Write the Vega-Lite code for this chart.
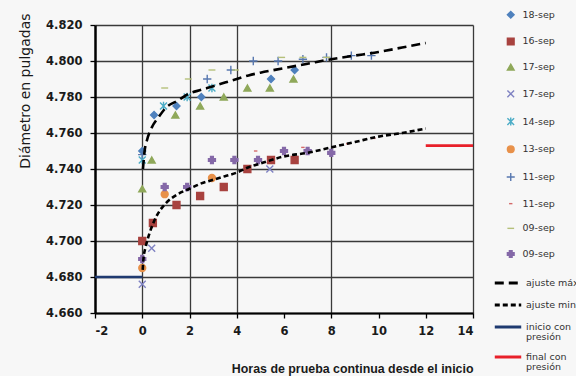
{
  "$schema": "https://vega.github.io/schema/vega-lite/v6.json",
  "width": 378,
  "height": 288,
  "autosize": "none",
  "padding": {"left": 95, "top": 25, "right": 103, "bottom": 63},
  "background": "#f7f7f7",
  "config": {"view": {"stroke": null}, "font": "DejaVu Sans", "axis": {"labelOverlap": false}, "axisY": {"labelOverlap": false}, "style": {"guide-label": {"lineHeight": 9.5}}},
  "datasets": {
    "pts": [
      {"s": "18-sep", "x": 0, "y": 4.750}, {"s": "18-sep", "x": 0.5, "y": 4.770}, {"s": "18-sep", "x": 1.45, "y": 4.775}, {"s": "18-sep", "x": 2.5, "y": 4.780}, {"s": "18-sep", "x": 5.45, "y": 4.790}, {"s": "18-sep", "x": 6.45, "y": 4.795},
      {"s": "16-sep", "x": 0, "y": 4.700}, {"s": "16-sep", "x": 0.45, "y": 4.710}, {"s": "16-sep", "x": 1.45, "y": 4.720}, {"s": "16-sep", "x": 2.45, "y": 4.725}, {"s": "16-sep", "x": 3.45, "y": 4.730}, {"s": "16-sep", "x": 4.45, "y": 4.740}, {"s": "16-sep", "x": 5.45, "y": 4.745}, {"s": "16-sep", "x": 6.45, "y": 4.745},
      {"s": "17-sep", "x": 0, "y": 4.729}, {"s": "17-sep", "x": 0.4, "y": 4.745}, {"s": "17-sep", "x": 1.4, "y": 4.770}, {"s": "17-sep", "x": 2.45, "y": 4.775}, {"s": "17-sep", "x": 3.45, "y": 4.780}, {"s": "17-sep", "x": 4.45, "y": 4.785}, {"s": "17-sep", "x": 5.4, "y": 4.785}, {"s": "17-sep", "x": 6.4, "y": 4.790},
      {"s": "17-sep b", "x": 0, "y": 4.676}, {"s": "17-sep b", "x": 0.4, "y": 4.696}, {"s": "17-sep b", "x": 5.4, "y": 4.740},
      {"s": "14-sep", "x": 0, "y": 4.745}, {"s": "14-sep", "x": 0.9, "y": 4.775}, {"s": "14-sep", "x": 1.9, "y": 4.780}, {"s": "14-sep", "x": 2.95, "y": 4.785},
      {"s": "13-sep", "x": 0, "y": 4.685}, {"s": "13-sep", "x": 0.95, "y": 4.726}, {"s": "13-sep", "x": 2.95, "y": 4.735},
      {"s": "11-sep", "x": 0, "y": 4.748}, {"s": "11-sep", "x": 2.75, "y": 4.790}, {"s": "11-sep", "x": 3.75, "y": 4.795}, {"s": "11-sep", "x": 4.7, "y": 4.800}, {"s": "11-sep", "x": 5.75, "y": 4.800}, {"s": "11-sep", "x": 6.8, "y": 4.801}, {"s": "11-sep", "x": 7.8, "y": 4.802}, {"s": "11-sep", "x": 8.85, "y": 4.803}, {"s": "11-sep", "x": 9.7, "y": 4.803},
      {"s": "11-sep b", "x": 4.8, "y": 4.750}, {"s": "11-sep b", "x": 6.8, "y": 4.752}, {"s": "11-sep b", "x": 8.7, "y": 4.754}, {"s": "11-sep b", "x": 9.8, "y": 4.757},
      {"s": "09-sep", "x": 0.95, "y": 4.785}, {"s": "09-sep", "x": 1.95, "y": 4.790}, {"s": "09-sep", "x": 2.95, "y": 4.795}, {"s": "09-sep", "x": 3.95, "y": 4.795}, {"s": "09-sep", "x": 5.9, "y": 4.802}, {"s": "09-sep", "x": 6.8, "y": 4.802}, {"s": "09-sep", "x": 7.8, "y": 4.802},
      {"s": "09-sep b", "x": 0, "y": 4.690}, {"s": "09-sep b", "x": 0.95, "y": 4.730}, {"s": "09-sep b", "x": 1.9, "y": 4.730}, {"s": "09-sep b", "x": 2.95, "y": 4.745}, {"s": "09-sep b", "x": 3.9, "y": 4.745}, {"s": "09-sep b", "x": 4.9, "y": 4.745}, {"s": "09-sep b", "x": 6.0, "y": 4.750}, {"s": "09-sep b", "x": 7.0, "y": 4.750}, {"s": "09-sep b", "x": 8.0, "y": 4.749}
    ],
    "fits": [
      {"f": "ajuste máx", "x": 0.03, "y": 4.740}, {"f": "ajuste máx", "x": 0.1, "y": 4.750}, {"f": "ajuste máx", "x": 0.2, "y": 4.756}, {"f": "ajuste máx", "x": 0.4, "y": 4.763}, {"f": "ajuste máx", "x": 0.7, "y": 4.769}, {"f": "ajuste máx", "x": 1.0, "y": 4.774}, {"f": "ajuste máx", "x": 1.5, "y": 4.778}, {"f": "ajuste máx", "x": 2.0, "y": 4.782}, {"f": "ajuste máx", "x": 2.5, "y": 4.784}, {"f": "ajuste máx", "x": 3.0, "y": 4.786}, {"f": "ajuste máx", "x": 3.5, "y": 4.788}, {"f": "ajuste máx", "x": 4.0, "y": 4.790}, {"f": "ajuste máx", "x": 4.5, "y": 4.792}, {"f": "ajuste máx", "x": 5.0, "y": 4.7935}, {"f": "ajuste máx", "x": 6.0, "y": 4.796}, {"f": "ajuste máx", "x": 7.0, "y": 4.7985}, {"f": "ajuste máx", "x": 8.0, "y": 4.801}, {"f": "ajuste máx", "x": 9.0, "y": 4.803}, {"f": "ajuste máx", "x": 10.0, "y": 4.805}, {"f": "ajuste máx", "x": 11.0, "y": 4.8075}, {"f": "ajuste máx", "x": 12.0, "y": 4.810},
      {"f": "ajuste min", "x": 0.02, "y": 4.684}, {"f": "ajuste min", "x": 0.05, "y": 4.690}, {"f": "ajuste min", "x": 0.15, "y": 4.697}, {"f": "ajuste min", "x": 0.3, "y": 4.704}, {"f": "ajuste min", "x": 0.5, "y": 4.711}, {"f": "ajuste min", "x": 0.75, "y": 4.717}, {"f": "ajuste min", "x": 1.0, "y": 4.721}, {"f": "ajuste min", "x": 1.5, "y": 4.726}, {"f": "ajuste min", "x": 2.0, "y": 4.729}, {"f": "ajuste min", "x": 2.5, "y": 4.732}, {"f": "ajuste min", "x": 3.0, "y": 4.734}, {"f": "ajuste min", "x": 3.5, "y": 4.736}, {"f": "ajuste min", "x": 4.0, "y": 4.738}, {"f": "ajuste min", "x": 4.5, "y": 4.741}, {"f": "ajuste min", "x": 5.0, "y": 4.743}, {"f": "ajuste min", "x": 6.0, "y": 4.747}, {"f": "ajuste min", "x": 7.0, "y": 4.749}, {"f": "ajuste min", "x": 8.0, "y": 4.752}, {"f": "ajuste min", "x": 9.0, "y": 4.755}, {"f": "ajuste min", "x": 10.0, "y": 4.758}, {"f": "ajuste min", "x": 11.0, "y": 4.760}, {"f": "ajuste min", "x": 12.0, "y": 4.7625},
      {"f": "inicio con presión", "x": -2, "y": 4.680}, {"f": "inicio con presión", "x": 0, "y": 4.680},
      {"f": "final con presión", "x": 12, "y": 4.753}, {"f": "final con presión", "x": 14, "y": 4.753}
    ]
  },
  "resolve": {"axis": {"x": "independent"}},
  "layer": [
    {
      "data": {"name": "pts"},
      "mark": {"type": "point", "filled": true, "opacity": 1, "size": 48, "strokeWidth": 1.4},
      "encoding": {
        "x": {"field": "x", "type": "quantitative", "scale": {"domain": [-2, 14], "nice": false, "zero": false},
          "axis": {"orient": "top", "values": [0, 2, 4, 8, 14], "grid": true, "gridColor": "#3a3a3a", "gridWidth": 1.3, "labels": false, "ticks": false, "domain": false, "title": null}},
        "y": {"field": "y", "type": "quantitative", "scale": {"domain": [4.66, 4.82], "nice": false, "zero": false},
          "axis": {"values": [4.66, 4.68, 4.70, 4.72, 4.74, 4.76, 4.78, 4.80, 4.82], "format": ".3f", "labelOverlap": false, "grid": true, "gridColor": "#3a3a3a", "gridWidth": 1.3,
            "domainColor": "#000", "domainWidth": 2.5, "tickColor": "#000", "tickSize": 5, "tickWidth": 1.3,
            "labelFont": "DejaVu Sans", "labelFontWeight": "bold", "labelFontSize": 11.5, "labelColor": "#1a1a1a", "labelPadding": 8,
            "title": "Diámetro en pulgadas", "titleFont": "DejaVu Sans", "titleFontWeight": "normal", "titleFontSize": 14, "titleColor": "#1a1a1a", "titlePadding": 13, "titleAnchor": "end", "titleY": -12}},
        "fill": {"field": "s", "type": "nominal",
          "scale": {"domain": ["18-sep", "16-sep", "17-sep", "17-sep b", "14-sep", "13-sep", "11-sep", "11-sep b", "09-sep", "09-sep b"],
            "range": ["#4F81BD", "#A8423F", "#8FA85A", "#7F82C2", "#4BACC6", "#E8914A", "#5878B0", "#D46A6A", "#B5C07A", "#8569A8"]},
          "legend": {"title": null, "orient": "none", "legendX": 411, "legendY": -15, "padding": 0, "symbolSize": 45, "symbolStrokeWidth": 1.4, "labelFont": "DejaVu Sans", "labelFontSize": 9.5, "labelColor": "#333", "rowPadding": 13.7, "labelOffset": 7, "labelExpr": "replace(datum.label, ' b', '')"}},
        "stroke": {"field": "s", "type": "nominal",
          "scale": {"domain": ["18-sep", "16-sep", "17-sep", "17-sep b", "14-sep", "13-sep", "11-sep", "11-sep b", "09-sep", "09-sep b"],
            "range": ["#4F81BD", "#A8423F", "#8FA85A", "#7F82C2", "#4BACC6", "#E8914A", "#5878B0", "#D46A6A", "#B5C07A", "#8569A8"]},
          "legend": {"title": null, "orient": "none", "legendX": 411, "legendY": -15, "padding": 0, "symbolSize": 45, "symbolStrokeWidth": 1.4, "labelFont": "DejaVu Sans", "labelFontSize": 9.5, "labelColor": "#333", "rowPadding": 13.7, "labelOffset": 7, "labelExpr": "replace(datum.label, ' b', '')"}},
        "shape": {"field": "s", "type": "nominal",
          "scale": {"domain": ["18-sep", "16-sep", "17-sep", "17-sep b", "14-sep", "13-sep", "11-sep", "11-sep b", "09-sep", "09-sep b"],
            "range": ["diamond", "square", "triangle-up", "M-1,-1L1,1M-1,1L1,-1", "M-1,-1L1,1M-1,1L1,-1M0,-1.2L0,1.2", "circle", "M-1.2,0L1.2,0M0,-1.2L0,1.2", "M-0.5,0L0.5,0", "M-1,0L1,0", "cross"]},
          "legend": {"title": null, "orient": "none", "legendX": 411, "legendY": -15, "padding": 0, "symbolSize": 45, "symbolStrokeWidth": 1.4, "labelFont": "DejaVu Sans", "labelFontSize": 9.5, "labelColor": "#333", "rowPadding": 13.7, "labelOffset": 7, "labelExpr": "replace(datum.label, ' b', '')"}}
      }
    },
    {
      "data": {"name": "fits"},
      "mark": {"type": "line", "strokeWidth": 2.6, "interpolate": "monotone"},
      "encoding": {
        "x": {"field": "x", "type": "quantitative", "scale": {"domain": [-2, 14], "nice": false, "zero": false},
          "axis": {"orient": "bottom", "values": [-2, 0, 2, 4, 6, 8, 10, 12, 14], "labelOverlap": false, "grid": false,
            "domainColor": "#000", "domainWidth": 2, "tickColor": "#000", "tickSize": 5, "tickWidth": 1.3,
            "labelFont": "DejaVu Sans", "labelFontWeight": "bold", "labelFontSize": 11.5, "labelColor": "#1a1a1a", "labelPadding": 7,
            "labelExpr": "replace(datum.label, '−', '-')",
            "title": "Horas de prueba continua desde el inicio", "titleAnchor": "end", "titleFont": "Liberation Sans", "titleFontWeight": "bold", "titleFontSize": 12.4, "titleColor": "#1a1a1a", "titlePadding": 26}},
        "y": {"field": "y", "type": "quantitative", "scale": {"domain": [4.66, 4.82], "nice": false, "zero": false},
          "axis": {"values": [4.66, 4.68, 4.70, 4.72, 4.74, 4.76, 4.78, 4.80, 4.82], "format": ".3f", "labelOverlap": false, "grid": true, "gridColor": "#3a3a3a", "gridWidth": 1.3,
            "domainColor": "#000", "domainWidth": 2.5, "tickColor": "#000", "tickSize": 5, "tickWidth": 1.3,
            "labelFont": "DejaVu Sans", "labelFontWeight": "bold", "labelFontSize": 11.5, "labelColor": "#1a1a1a", "labelPadding": 8,
            "title": "Diámetro en pulgadas", "titleFont": "DejaVu Sans", "titleFontWeight": "normal", "titleFontSize": 14, "titleColor": "#1a1a1a", "titlePadding": 13, "titleAnchor": "end", "titleY": -12}},
        "color": {"field": "f", "type": "nominal",
          "scale": {"domain": ["ajuste máx", "ajuste min", "inicio con presión", "final con presión"], "range": ["#000000", "#000000", "#1F3A70", "#E8202A"]},
          "legend": {"title": null, "orient": "none", "legendX": 398, "legendY": 243, "padding": 0, "symbolType": "stroke", "symbolSize": 700, "symbolStrokeWidth": 3, "labelFont": "DejaVu Sans", "labelFontSize": 9.5, "labelColor": "#333", "rowPadding": 1, "labelOffset": 3,
            "labelExpr": "datum.label == 'inicio con presión' ? ['inicio con', 'presión'] : datum.label == 'final con presión' ? ['final con', 'presión'] : datum.label"}},
        "strokeDash": {"field": "f", "type": "nominal",
          "scale": {"domain": ["ajuste máx", "ajuste min", "inicio con presión", "final con presión"], "range": [[9, 5], [5, 3], [1, 0], [1, 0]]},
          "legend": {"title": null, "orient": "none", "legendX": 398, "legendY": 243, "padding": 0, "symbolType": "stroke", "symbolSize": 700, "symbolStrokeWidth": 3, "labelFont": "DejaVu Sans", "labelFontSize": 9.5, "labelColor": "#333", "rowPadding": 1, "labelOffset": 3,
            "labelExpr": "datum.label == 'inicio con presión' ? ['inicio con', 'presión'] : datum.label == 'final con presión' ? ['final con', 'presión'] : datum.label"}}
      }
    }
  ]
}
